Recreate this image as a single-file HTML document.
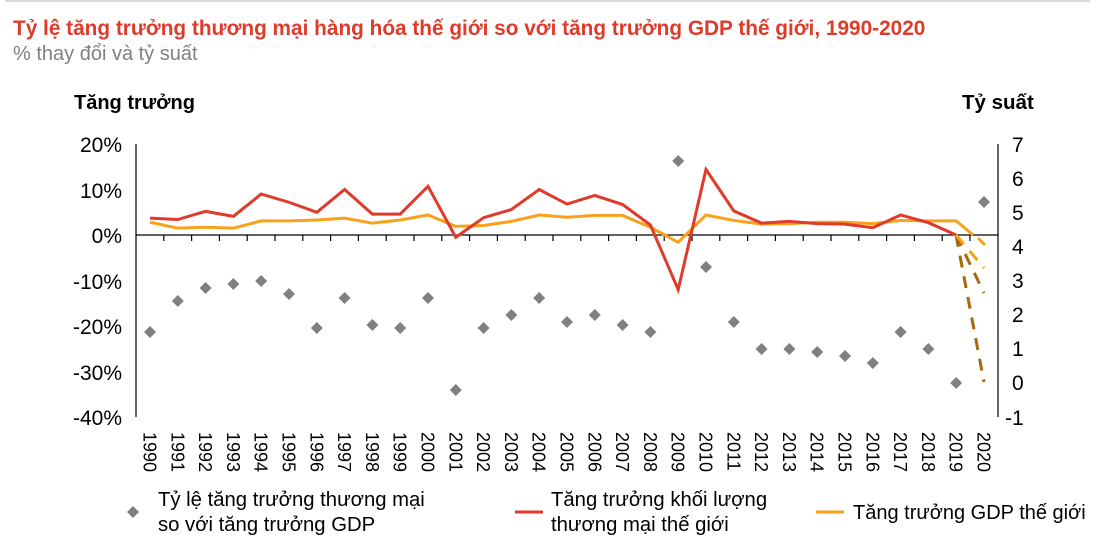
<!DOCTYPE html>
<html><head><meta charset="utf-8"><style>
body{margin:0;background:#fff;width:1107px;height:550px;overflow:hidden}
svg{display:block;font-family:"Liberation Sans",Arial,sans-serif}
</style></head><body>
<svg width="1107" height="550" viewBox="0 0 1107 550">
<rect x="5" y="0" width="1085" height="2" fill="#d9d9d9"/>
<text x="13" y="35" font-size="20.8" font-weight="bold" fill="#e03a2a">Tỷ lệ tăng trưởng thương mại hàng hóa thế giới so với tăng trưởng GDP thế giới, 1990-2020</text>
<text x="13" y="60" font-size="20" fill="#808080">% thay đổi và tỷ suất</text>
<text x="74" y="109" font-size="20" font-weight="bold" fill="#000">Tăng trưởng</text>
<text x="962" y="109" font-size="20.5" font-weight="bold" fill="#000">Tỷ suất</text>
<g font-size="21" fill="#000" text-anchor="end">
<text x="122" y="152">20%</text><text x="122" y="198">10%</text><text x="122" y="243">0%</text>
<text x="122" y="289">-10%</text><text x="122" y="334">-20%</text><text x="122" y="380">-30%</text><text x="122" y="425">-40%</text>
</g>
<g font-size="21" fill="#000">
<text x="1012" y="152">7</text><text x="1012" y="186">6</text><text x="1012" y="220">5</text><text x="1012" y="254">4</text>
<text x="1012" y="288">3</text><text x="1012" y="322">2</text><text x="1012" y="356">1</text><text x="1012" y="390">0</text><text x="1005" y="425">-1</text>
</g>
<line x1="136" y1="144" x2="136" y2="417" stroke="#000" stroke-width="1.2"/>
<line x1="998" y1="144" x2="998" y2="417" stroke="#000" stroke-width="1.2"/>
<line x1="136" y1="235" x2="998" y2="235" stroke="#000" stroke-width="1.2"/>
<g id="ticks" stroke="#000" stroke-width="1.2"></g>
<g id="xl" font-size="18" fill="#000"></g>
<polyline id="gdp" fill="none" stroke="#f9a11b" stroke-width="3"/>
<polyline id="trade" fill="none" stroke="#e03a2a" stroke-width="3"/>
<line x1="956" y1="235" x2="984" y2="293" stroke="#a8690c" stroke-width="3" stroke-dasharray="12,9"/>
<line x1="956" y1="235" x2="984" y2="382" stroke="#a8690c" stroke-width="3" stroke-dasharray="12,9"/>
<line x1="956" y1="235" x2="984" y2="268" stroke="#f9a11b" stroke-width="3" stroke-dasharray="12,9"/>
<line x1="978" y1="238" x2="985" y2="245" stroke="#f9a11b" stroke-width="3"/>
<g id="sc" fill="#808080"></g>
<g transform="translate(133,512)"><path d="M0,-6 L6,0 L0,6 L-6,0Z" fill="#808080"/></g>
<text x="158" y="506" font-size="20.3" fill="#000">Tỷ lệ tăng trưởng thương mại</text>
<text x="158" y="531" font-size="20.3" fill="#000">so với tăng trưởng GDP</text>
<line x1="515" y1="512" x2="543" y2="512" stroke="#e03a2a" stroke-width="3"/>
<text x="551" y="506" font-size="20.3" fill="#000">Tăng trưởng khối lượng</text>
<text x="551" y="531" font-size="20.3" fill="#000">thương mại thế giới</text>
<line x1="816" y1="512" x2="844" y2="512" stroke="#f9a11b" stroke-width="3"/>
<text x="853" y="519" font-size="20" fill="#000">Tăng trưởng GDP thế giới</text>
</svg>
<script>
var X=i=>150+27.8*i, Y=v=>235-4.55*v, ns="http://www.w3.org/2000/svg";
var tr=[3.7,3.4,5.2,4.1,9,7.2,5,10,4.6,4.6,10.7,-0.5,3.8,5.6,10,6.8,8.7,6.7,2.2,-12,14.4,5.3,2.6,3,2.5,2.4,1.6,4.4,2.7,0];
var gd=[2.8,1.5,1.7,1.5,3.1,3.1,3.3,3.7,2.6,3.3,4.4,1.9,2.1,3,4.4,3.9,4.3,4.3,1.7,-1.6,4.4,3.2,2.4,2.5,2.8,2.8,2.5,3.2,3.1,3.1];
var sc=[332,301,288,284,281,294,328,298,325,328,298,390,328,315,298,322,315,325,332,161,267,322,349,349,352,356,363,332,349,383,202];
document.getElementById("trade").setAttribute("points",tr.map((v,i)=>X(i)+","+Y(v)).join(" "));
document.getElementById("gdp").setAttribute("points",gd.map((v,i)=>X(i)+","+Y(v)).join(" ")+" 973,235");
var g=document.getElementById("sc"),t=document.getElementById("ticks"),xl=document.getElementById("xl");
sc.forEach((y,i)=>{var p=document.createElementNS(ns,"path");var x=X(i);p.setAttribute("d","M"+x+","+(y-6)+"L"+(x+6)+","+y+"L"+x+","+(y+6)+"L"+(x-6)+","+y+"Z");g.appendChild(p);
var l=document.createElementNS(ns,"line");var tx=136+27.8*(i+1);l.setAttribute("x1",tx);l.setAttribute("x2",tx);l.setAttribute("y1",235);l.setAttribute("y2",241);if(i<30)t.appendChild(l);
var s=document.createElementNS(ns,"text");s.setAttribute("transform","translate("+(x-6.5)+",432) rotate(90)");s.textContent=1990+i;xl.appendChild(s);});
</script>
</body></html>
